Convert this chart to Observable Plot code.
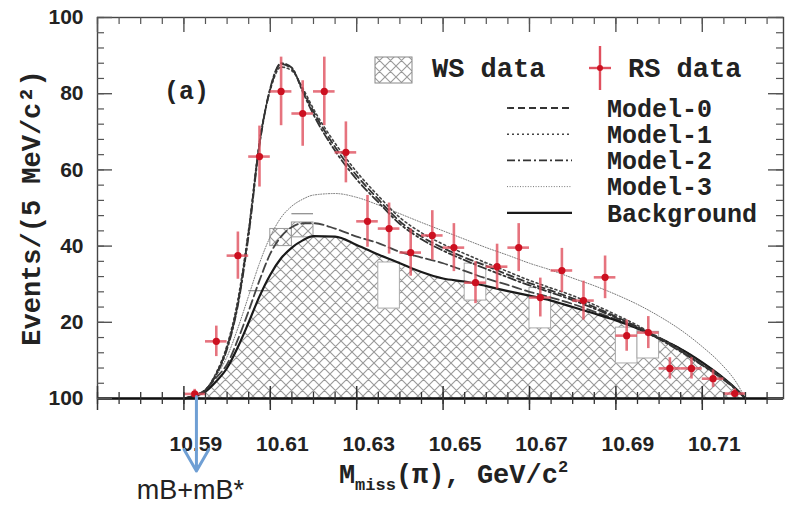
<!DOCTYPE html>
<html><head><meta charset="utf-8">
<script src="https://cdn.jsdelivr.net/npm/d3@7"></script>
<script src="https://cdn.jsdelivr.net/npm/@observablehq/plot@0.6"></script>
<style>body{margin:0;background:#fff}svg{display:block}</style>
</head><body><div id="chart"></div>
<script>
// ---------- data ----------
const rsX = [10.5925,10.5975,10.6025,10.6075,10.6125,10.6175,10.6225,10.6275,10.6325,10.6375,10.6425,10.6475,10.6525,10.6575,10.6625,10.6675,10.6725,10.6775,10.6825,10.6875,10.6925,10.6975,10.7025,10.7075,10.7125,10.7175];
const rsY = [1.2,15,37.5,63.5,80.6,74.8,80.6,64.6,46.5,44.6,38.3,42.8,39.6,30.4,34.6,39.6,26.5,33.6,25.7,31.8,16.5,17.3,7.9,7.9,5.2,1.3];
const rsErr = [1.2,4,6.2,8,9,8.6,9,8,6.8,6.7,6.2,6.5,6.3,5.5,5.9,6.3,5.1,5.8,5.1,5.6,4.1,4.2,2.8,2.8,2.3,1.2];
const binHalf = 0.0025;

const curveX = [10.590,10.5925,10.595,10.5975,10.600,10.6025,10.605,10.6075,10.610,10.6125,10.615,10.6175,10.620,10.625,10.630,10.635,10.640,10.645,10.650,10.655,10.660,10.665,10.670,10.675,10.680,10.685,10.690,10.695,10.700,10.705,10.710,10.714,10.718,10.720];
const model0 = [0,0.8,2.2,6.5,13.5,25,43.8,67,81.2,87.8,86.5,81,75.3,66,58.5,52.3,46.5,42.5,39.5,37,34.8,32.5,30.3,28.3,26.3,24,21.5,18.8,15.8,12.5,8.8,5.8,2.2,0];
const model1 = [0,0.8,2.3,6.8,14,26,44.5,67.5,81,87,86,81.5,76,67,59.5,53.2,47.5,43.5,40.5,38,35.6,33.3,31,29,27,24.6,22,19.2,16,12.7,9,6,2.3,0];
const model2 = [0,0.7,2.1,6.3,13,24.5,43,66.5,81.5,88,86.8,80.5,74.5,65,57.5,51.5,45.8,41.8,38.8,36.3,34,31.8,29.7,27.8,25.8,23.6,21.2,18.5,15.6,12.3,8.7,5.7,2.2,0];
const model3 = [0,0.8,2.5,6,11,18.5,27,35.5,42.5,47.5,50.5,52.3,53.4,53.8,52.8,50.8,48.5,46.2,44,41.8,39.6,37.6,35.5,33.7,31.6,29.6,27.3,24.7,21.6,18,13.6,9.5,4,0];
const background = [0,0.7,1.8,4.5,8,13.5,20,26.8,32.5,36.8,39.6,41.5,42.6,42.5,40.3,37.8,35.5,33.2,31.5,30.7,29.5,28.2,27,25.7,24,22.3,20.5,18.4,15.8,13,9.5,6.2,2.3,0];
const bgAlt = [0,0.8,2.3,5.5,9,15.5,23,31,38,42.5,45,46,46,44.6,42.5,40.8,38.5,37,35.5,33.5,31.5,29.8,28,26.5,24.8,22.8,20.8,18.6,16,13,9.4,6.1,2.3,0];

// WS error boxes (bin start, low, high)
const wsBoxX = [10.635,10.655,10.670,10.690,10.695];
const wsBoxLo = [23.6,25.7,18.4,9.2,10.5];
const wsBoxHi = [35.7,35.4,29.0,18.6,17.5];
const wsHatchBoxX = [10.610,10.615];
const wsHatchBoxLo = [40,42.3];
const wsHatchBoxHi = [44.5,46.2];
const wsBinTopX = [10.605,10.615];
const wsBinTopY = [28.3,48.5];

const xTicks = [10.57,10.59,10.61,10.63,10.65,10.67,10.69,10.71];
const xTickLabels = ["", "10.59","10.61","10.63","10.65","10.67","10.69","10.71"];
const yTicks = [0,20,40,60,80,100];
const yTickLabels = ["100","20","40","60","80","100"];
const legendModels = ["Model-0","Model-1","Model-2","Model-3","Background"];
const yTitle = "Events/(5 MeV/c²)";
const xTitle = "M(π), GeV/c²";

// ---------- build ----------
const W = 787, H = 507, mL = 97, mR = 4, mT = 17, mB = 109;
const fw = W - mL - mR, fh = H - mT - mB;
const curve = curveX.map((x,i)=>({x, m0:model0[i], m1:model1[i], m2:model2[i], m3:model3[i], bg:background[i], alt:bgAlt[i]}));
const rs = rsX.map((x,i)=>({x, y:rsY[i], e:rsErr[i]}));
const boxes = wsBoxX.map((x,i)=>({x1:x, x2:x+0.005, y1:wsBoxLo[i], y2:wsBoxHi[i]}));
const hboxes = wsHatchBoxX.map((x,i)=>({x1:x, x2:x+0.005, y1:wsHatchBoxLo[i], y2:wsHatchBoxHi[i]}));
const binTops = wsBinTopX.map((x,i)=>({x1:x, x2:x+0.005, y:wsBinTopY[i]}));
const minorX = d3.range(0,33).map(i=>+(10.57+i*0.005).toFixed(3)).filter(v=>v<=10.7288);
const minorY = d3.range(0,101,4);
const sans = "'Liberation Sans', Arial, sans-serif";
const mono = "'Liberation Mono', 'Courier New', monospace";

const plot = Plot.plot({
  width: W, height: H, marginLeft: mL, marginRight: mR, marginTop: mT, marginBottom: mB,
  x: {domain:[10.57,10.7288]},
  y: {domain:[0,100]},
  style: {fontFamily: sans, background: "#fff"},
  marks: [
    Plot.areaY(curve, {x:"x", y:"bg", fill:"url(#hatch)", curve:"monotone-x"}),
    Plot.rect(hboxes, {x1:"x1", x2:"x2", y1:"y1", y2:"y2", fill:"url(#hatch)", stroke:"#999", strokeWidth:1}),
    Plot.rect(boxes, {x1:"x1", x2:"x2", y1:"y1", y2:"y2", fill:"#fff", stroke:"#aaa", strokeWidth:1}),
    Plot.ruleY(binTops, {y:"y", x1:"x1", x2:"x2", stroke:"#888", strokeWidth:1.2}),
    Plot.line(curve, {x:"x", y:"m3", stroke:"#777", strokeWidth:1, strokeDasharray:"1,1.6", curve:"monotone-x"}),
    Plot.line(curve, {x:"x", y:"alt", stroke:"#444", strokeWidth:1.8, strokeDasharray:"9,4", curve:"monotone-x"}),
    Plot.line(curve, {x:"x", y:"bg", stroke:"#1a1a1a", strokeWidth:2.2, curve:"monotone-x"}),
    Plot.line(curve, {x:"x", y:"m1", stroke:"#444", strokeWidth:1.6, strokeDasharray:"2,3", curve:"monotone-x"}),
    Plot.line(curve, {x:"x", y:"m2", stroke:"#333", strokeWidth:1.8, strokeDasharray:"8,3,2,3", curve:"monotone-x"}),
    Plot.line(curve, {x:"x", y:"m0", stroke:"#333", strokeWidth:1.8, strokeDasharray:"7,4", curve:"monotone-x"}),
    // RS data
    Plot.ruleX(rs, {x:"x", y1:d=>d.y-d.e, y2:d=>d.y+d.e, stroke:"#e0505e", strokeWidth:2.6, strokeOpacity:0.8}),
    Plot.ruleY(rs, {y:"y", x1:d=>d.x-binHalf, x2:d=>d.x+binHalf, stroke:"#e0505e", strokeWidth:2.6, strokeOpacity:0.8}),
    Plot.dot(rs, {x:"x", y:"y", r:3.6, fill:"#cc1020", stroke:"none"}),
    // frame & ticks
    Plot.frame({stroke:"#444", strokeWidth:1.4}),
    Plot.ruleY([0], {stroke:"#111", strokeWidth:2.4}),
    Plot.tickX(xTicks, {x:d=>d, insetTop: fh-12, insetBottom:-12, stroke:"#333", strokeWidth:1.5}),
    Plot.tickX(minorX, {x:d=>d, insetTop: fh-6, insetBottom:-6, stroke:"#333", strokeWidth:1.3}),
    Plot.tickX(xTicks, {x:d=>d, insetBottom: fh-15, stroke:"#555", strokeWidth:1.4}),
    Plot.tickX(minorX, {x:d=>d, insetBottom: fh-7, stroke:"#555", strokeWidth:1.2}),
    Plot.tickY(yTicks, {y:d=>d, insetRight: fw-15, stroke:"#555", strokeWidth:1.4}),
    Plot.tickY(minorY, {y:d=>d, insetRight: fw-7, stroke:"#555", strokeWidth:1.2}),
    Plot.tickY(yTicks, {y:d=>d, insetLeft: fw-15, stroke:"#555", strokeWidth:1.4}),
    Plot.tickY(minorY, {y:d=>d, insetLeft: fw-7, stroke:"#555", strokeWidth:1.2}),
    Plot.axisX(xTicks, {anchor:"bottom", tickSize:0, tickPadding:38, dx:12, fontSize:21, fontWeight:"bold", fill:"#222", tickFormat:(d,i)=>xTickLabels[i]}),
    Plot.axisY(yTicks, {anchor:"left", tickSize:0, tickPadding:14, fontSize:21, fontWeight:"bold", fill:"#222", tickFormat:(d,i)=>yTickLabels[i]}),
    // labels
    Plot.text([yTitle], {frameAnchor:"left", textAnchor:"middle", dx:-66, rotate:-90, fontFamily:mono, fontWeight:"bold", fontSize:27, fill:"#222"}),
    Plot.text(["(a)"], {frameAnchor:"top-left", textAnchor:"middle", dx:89, dy:64, fontFamily:mono, fontWeight:"bold", fontSize:25, fill:"#222"}),
    Plot.text([xTitle], {frameAnchor:"bottom", textAnchor:"middle", dx:13, dy:84, fontFamily:mono, fontWeight:"bold", fontSize:27, fill:"#222"}),
    Plot.arrow([0], {x1:10.5929, x2:10.5929, y1:0.5, y2:-19, stroke:"#6f9fd4", strokeWidth:3, headLength:18}),
    Plot.text(["mB+mB*"], {x:10.5915, y:-24, fontSize:27, fill:"#222", fontFamily:sans})
  ]
});

const svg = d3.select(plot);
const defs = svg.insert("defs", ":first-child");
const pat = defs.append("pattern").attr("id","hatch").attr("patternUnits","userSpaceOnUse").attr("width",11).attr("height",11);
pat.append("rect").attr("width",11).attr("height",11).attr("fill","#fff");
pat.append("path").attr("d","M-1,1 L1,-1 M0,11 L11,0 M10,12 L12,10 M-1,10 L1,12 M0,0 L11,11 M10,-1 L12,1").attr("stroke","#999").attr("stroke-width",1.1);

// x title with subscript "miss" and superscript 2
svg.selectAll("text").filter(function(){ return this.textContent === xTitle; }).each(function(){
  const t = d3.select(this);
  t.text(null);
  t.append("tspan").text("M");
  t.append("tspan").attr("font-size",17).attr("dy",7).text("miss");
  t.append("tspan").attr("dy",-7).text("(π), GeV/c");
  t.append("tspan").attr("font-size",17).attr("dy",-11).text("2");
});

// legend
const lg = svg.append("g").attr("font-family", mono).attr("font-weight","bold").attr("fill","#222").attr("text-anchor","start");
lg.append("rect").attr("x",375).attr("y",57).attr("width",37).attr("height",26).attr("fill","url(#hatch)").attr("stroke","#888");
lg.append("text").attr("x",432).attr("y",68).attr("dy","0.35em").attr("font-size",27).text("WS data");
lg.append("line").attr("x1",600).attr("x2",600).attr("y1",46).attr("y2",90).attr("stroke","#e0505e").attr("stroke-width",2.4);
lg.append("line").attr("x1",589).attr("x2",611).attr("y1",68).attr("y2",68).attr("stroke","#e0505e").attr("stroke-width",2.4);
lg.append("circle").attr("cx",600).attr("cy",68).attr("r",3).attr("fill","#cc1020");
lg.append("text").attr("x",628).attr("y",68).attr("dy","0.35em").attr("font-size",27).text("RS data");
const dashes = ["7,4","2,3","8,3,2,3","1,1.6",null];
const widths = [1.8,1.6,1.8,1,2.2];
const cols = ["#333","#444","#333","#777","#1a1a1a"];
legendModels.forEach((name,i)=>{
  const y = 108 + i*26.2;
  const l = lg.append("line").attr("x1",507).attr("x2",572).attr("y1",y).attr("y2",y).attr("stroke",cols[i]).attr("stroke-width",widths[i]);
  if (dashes[i]) l.attr("stroke-dasharray",dashes[i]);
  lg.append("text").attr("x",607).attr("y",y).attr("dy","0.35em").attr("font-size",25).text(name);
});

document.getElementById("chart").appendChild(plot);
</script></body></html>
